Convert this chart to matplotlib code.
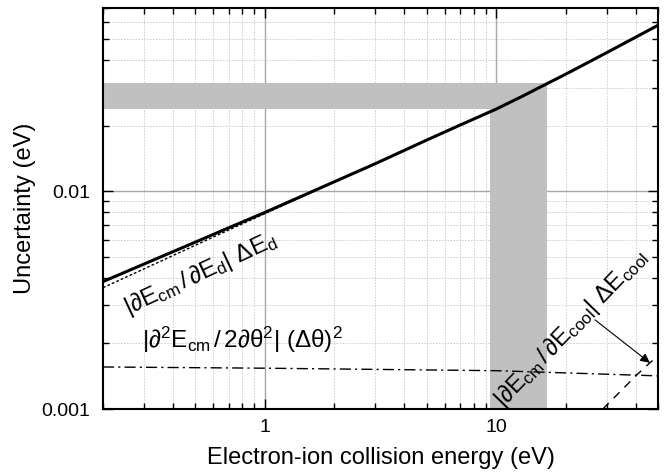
import matplotlib
matplotlib.use("Agg")
import matplotlib.pyplot as plt
from matplotlib.ticker import LogLocator, FixedLocator, FixedFormatter, NullFormatter

plt.rcParams['font.family'] = ['Liberation Sans', 'DejaVu Sans']
plt.rcParams['mathtext.fontset'] = 'custom'
plt.rcParams['mathtext.rm'] = 'Liberation Sans'
plt.rcParams['mathtext.it'] = 'Liberation Sans:italic'
plt.rcParams['mathtext.bf'] = 'Liberation Sans:bold'

# total uncertainty (solid)
E_tot = [0.2, 0.3, 0.5, 0.7, 1, 2, 3, 5, 7, 10, 13, 16.6, 20, 30, 50]
U_tot = [0.00385, 0.00463, 0.00584, 0.00681, 0.0080, 0.01108, 0.0134, 0.0172,
         0.0202, 0.0239, 0.0274, 0.0313, 0.0346, 0.0434, 0.058]

# |dEcm/dEd| dEd (dotted)
E_d = [0.2, 0.3, 0.5, 0.7, 1, 2, 3, 5, 7, 10, 13, 16.6, 20, 30, 50]
U_d = [0.00361, 0.00440, 0.00565, 0.00665, 0.0079, 0.01105, 0.0134, 0.0172,
       0.0202, 0.0239, 0.0274, 0.0313, 0.0346, 0.0434, 0.058]

# |d2Ecm/2dtheta2| (dtheta)^2 (dash-dot)
E_th = [0.2, 1, 10, 50]
U_th = [0.00156, 0.00154, 0.00150, 0.00142]

# |dEcm/dEcool| dEcool (dashed)
E_cool = [28.9, 40.5, 46.1, 50]
U_cool = [0.0010, 0.001435, 0.00163, 0.00175]

# shaded bands
band_x = [9.4, 16.6]
band_y = [0.024, 0.0315]

fig = plt.figure(figsize=(6.67, 4.74), dpi=100)
ax = fig.add_axes([103/667, 1-409/474, (658-103)/667, (409-7.5)/474])
ax.set_xscale('log')
ax.set_yscale('log')
ax.set_xlim(0.2, 50)
ax.set_ylim(0.001, 0.07)
ax.set_axisbelow(True)

gray = '#c0c0c0'
ax.fill_between([0.2, band_x[1]], band_y[0], band_y[1], color=gray, lw=0, zorder=1)
ax.fill_between(band_x, 0.001, band_y[1], color=gray, lw=0, zorder=1)

ax.plot(E_d, U_d, color='black', lw=1, ls=(0, (2, 1.5)), zorder=3)
ax.plot(E_tot, U_tot, color='black', lw=2.2, zorder=4)
ax.plot(E_th, U_th, color='black', lw=1, ls=(0, (8, 3, 1.5, 3)), zorder=3)
ax.plot(E_cool, U_cool, color='black', lw=1, ls=(0, (6, 5)), zorder=3)

ax.xaxis.set_major_locator(FixedLocator([1, 10]))
ax.xaxis.set_major_formatter(FixedFormatter(['1', '10']))
ax.xaxis.set_minor_locator(LogLocator(base=10, subs=range(2, 10), numticks=20))
ax.xaxis.set_minor_formatter(NullFormatter())
ax.yaxis.set_major_locator(FixedLocator([0.001, 0.01]))
ax.yaxis.set_major_formatter(FixedFormatter(['0.001', '0.01']))
ax.yaxis.set_minor_locator(LogLocator(base=10, subs=range(2, 10), numticks=20))
ax.yaxis.set_minor_formatter(NullFormatter())

ax.grid(which='major', color='#a8a8a8', lw=1, ls='-')
ax.grid(which='minor', color='#cccccc', lw=0.7, ls=(0, (1.5, 1.5)))

ax.tick_params(which='both', direction='in', top=True, right=True, labelsize=14, width=1)
ax.tick_params(which='major', length=7)
ax.tick_params(axis='x', which='major', pad=7)
ax.tick_params(axis='y', which='major', pad=9)
ax.tick_params(which='minor', length=4)
for s in ax.spines.values():
    s.set_linewidth(1.5)

ax.set_xlabel('Electron-ion collision energy (eV)', fontsize=17, labelpad=8)
ax.set_ylabel('Uncertainty (eV)', fontsize=17, labelpad=4)

t1 = r'$\mathrm{|\partial E_{cm}\,/\,\partial E_{d}|\ \Delta E_{d}}$'
t2 = r'$\mathrm{|\partial^{2}E_{cm}\,/\,2\partial\theta^{2}|\ (\Delta\theta)^{2}}$'
t3 = r'$\mathrm{|\partial E_{cm}\,/\,\partial E_{cool}|\ \Delta E_{cool}}$'
ax.text(0.53, 0.00420, t1, fontsize=17.5, rotation=25, ha='center', va='center',
        rotation_mode='anchor', zorder=5)
ax.text(0.80, 0.00208, t2, fontsize=17.5, ha='center', va='center', zorder=5)
ax.text(21.0, 0.00236, t3, fontsize=17.5, rotation=46, ha='center', va='center',
        rotation_mode='anchor', zorder=5)
ax.annotate('', xy=(46.1, 0.00163), xytext=(26.7, 0.00257),
            arrowprops=dict(arrowstyle='-|>', color='black', lw=0.8,
                            mutation_scale=14, shrinkA=0, shrinkB=0), zorder=5)

fig.savefig('out.png', dpi=100)
